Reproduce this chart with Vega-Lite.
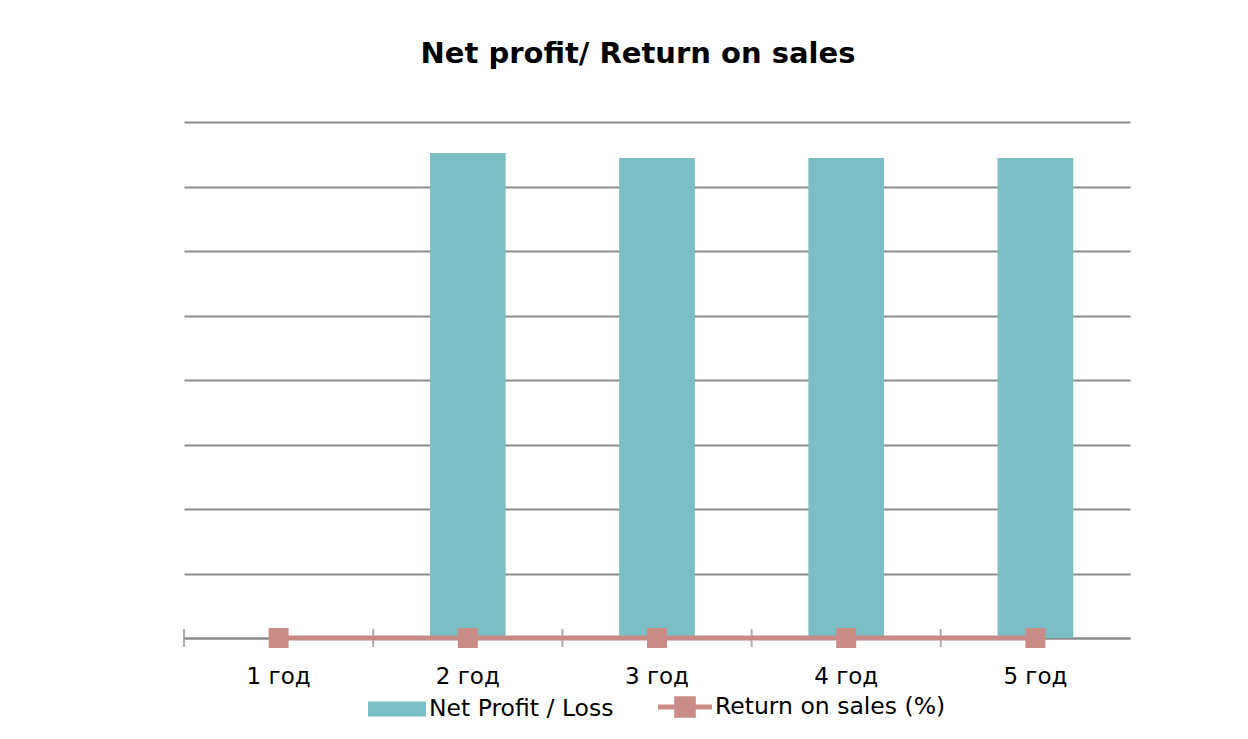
{
  "$schema": "https://vega.github.io/schema/vega-lite/v6.json",
  "autosize": {"type": "none"},
  "padding": {"left": 184, "top": 122, "right": 118, "bottom": 101},
  "width": 946,
  "height": 516,
  "background": "white",
  "title": {
    "text": "Net profit/ Return on sales",
    "font": "DejaVu Sans",
    "fontSize": 29,
    "fontWeight": "bold",
    "color": "#000000",
    "anchor": "middle",
    "dx": -19,
    "offset": 53
  },
  "config": {
    "view": {"stroke": null},
    "font": "DejaVu Sans",
    "legend": {"layout": {"bottom": {"anchor": "middle", "margin": 44}}}
  },
  "data": {
    "values": [
      {"year": "1 год", "profit": 0, "ros": 0},
      {"year": "2 год", "profit": 7.52, "ros": 0},
      {"year": "3 год", "profit": 7.44, "ros": 0},
      {"year": "4 год", "profit": 7.44, "ros": 0},
      {"year": "5 год", "profit": 7.44, "ros": 0}
    ]
  },
  "encoding": {
    "x": {
      "field": "year",
      "type": "nominal",
      "sort": null,
      "scale": {"paddingInner": 0, "paddingOuter": 0},
      "axis": {
        "title": null,
        "labelAngle": 0,
        "labelFontSize": 23,
        "labelColor": "#000000",
        "labelFont": "DejaVu Sans",
        "labelPadding": 27,
        "ticks": false,
        "domain": true,
        "domainColor": "#8c8c8c",
        "domainWidth": 2
      }
    }
  },
  "layer": [
    {
      "mark": {"type": "bar", "width": {"band": 0.4}},
      "encoding": {
        "y": {
          "field": "profit",
          "type": "quantitative",
          "scale": {"domain": [0, 8]},
          "axis": {
            "tickCount": 8,
            "grid": true,
            "gridColor": "#8c8c8c",
            "gridWidth": 2,
            "labels": false,
            "ticks": false,
            "domain": false,
            "title": null
          }
        },
        "fill": {
          "datum": "Net Profit / Loss",
          "type": "nominal",
          "scale": {"range": ["#7BBEC6"]},
          "legend": {
            "orient": "bottom",
            "title": null,
            "symbolType": "M-1,-0.26H1V0.26H-1Z",
            "symbolSize": 3364,
            "symbolStrokeWidth": 0,
            "labelFontSize": 23.5,
            "labelLimit": 0,
            "labelColor": "#000000",
            "labelFont": "DejaVu Sans",
            "labelOffset": 3,
            "offset": -10
          }
        }
      }
    },
    {
      "mark": {"type": "tick", "orient": "vertical", "color": "#8c8c8c", "thickness": 2, "size": 18},
      "encoding": {
        "x": {"field": "year", "type": "nominal", "sort": null, "bandPosition": 0},
        "y": {"datum": 0, "type": "quantitative"}
      }
    },
    {
      "mark": {"type": "line", "strokeWidth": 5, "point": {"shape": "square", "size": 400, "filled": true, "fill": "#C98C87", "strokeWidth": 0}},
      "encoding": {
        "y": {"field": "ros", "type": "quantitative"},
        "stroke": {
          "datum": "Return on sales (%)",
          "type": "nominal",
          "scale": {"range": ["#C88A85"]},
          "legend": {
            "orient": "bottom",
            "title": null,
            "symbolType": "M-1,-0.09H1V0.09H-1Z M-0.4,-0.4H0.4V0.4H-0.4Z",
            "symbolSize": 2916,
            "symbolStrokeWidth": 0,
            "symbolFillColor": "#C88A85",
            "labelFontSize": 23.5,
            "labelLimit": 0,
            "labelColor": "#000000",
            "labelFont": "DejaVu Sans",
            "labelOffset": 3,
            "offset": -8
          }
        }
      }
    }
  ],
  "resolve": {"scale": {"fill": "independent", "stroke": "independent"}}
}
